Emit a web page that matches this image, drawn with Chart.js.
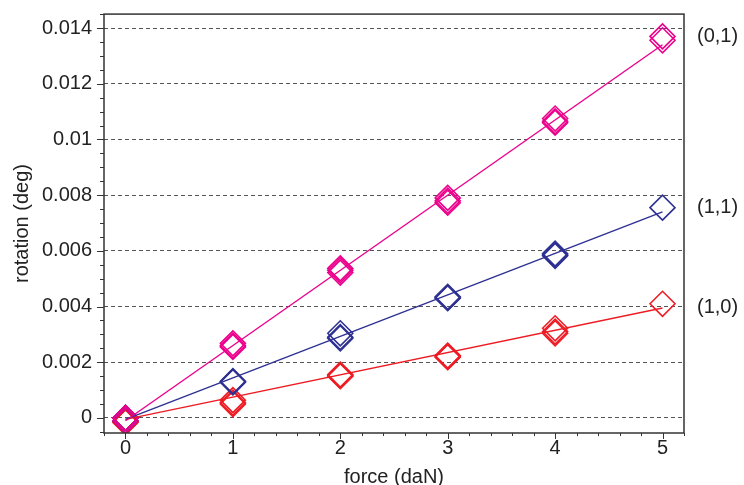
<!DOCTYPE html>
<html>
<head>
<meta charset="utf-8">
<script src="https://cdn.jsdelivr.net/npm/chart.js@4"></script>
<style>
  html, body { margin: 0; padding: 0; background: #fff; }
  #wrap { width: 744px; height: 485px; }
</style>
</head>
<body>
<div id="wrap"><canvas id="rotChart"></canvas></div>
<script>
// force steps (daN)
const forces = [0, 1, 2, 3, 4, 5];

// measured rotation (deg), three runs per configuration
const rot01A = [0, 0.00268, 0.00537, 0.0079, 0.01075, 0.0137];
const rot01B = [-0.0001, 0.00255, 0.00522, 0.00773, 0.0106, 0.01356];
const rot01C = [0, 0.0026, 0.0053, 0.0078, 0.01065, null];

const rot11A = [0, 0.0013, 0.00304, 0.00435, 0.0059, 0.00755];
const rot11B = [-0.0001, 0.00128, 0.00286, 0.00432, 0.00585, null];
const rot11C = [0, 0.00132, 0.0029, 0.0043, 0.00582, null];

const rot10A = [-0.00012, 0.00064, 0.00156, 0.00224, 0.00322, 0.0041];
const rot10B = [-0.00016, 0.0005, 0.00152, 0.0022, 0.00304, null];
const rot10C = [-0.00014, 0.00055, 0.0015, 0.00218, 0.0031, null];

// fitted lines, value at force 0 and force 5
const fitForces = [0, 5];
const fit01 = [-0.0001, 0.0134];
const fit11 = [-0.00005, 0.0074];
const fit10 = [-0.00005, 0.00395];

// right hand labels
const configNames = ['(0,1)', '(1,1)', '(1,0)'];
const configLabelAt = [0.0137, 0.00755, 0.00397];

const yTicks = [0, 0.002, 0.004, 0.006, 0.008, 0.01, 0.012, 0.014];
const xTicks = [0, 1, 2, 3, 4, 5];

const PINK = '#ec008c';
const BLUE = '#2e3192';
const RED = '#ed1c24';
const FONT = "'Liberation Sans', Arial, sans-serif";

function pts(xs, ys) {
  return xs.map((x, i) => ({ x, y: ys[i] })).filter(p => p.y !== null);
}

function fitSet(ys, color) {
  return {
    data: pts(fitForces, ys),
    showLine: true,
    borderColor: color,
    borderWidth: 1.4,
    pointRadius: 0,
    fill: false
  };
}

function markSet(ys, color) {
  return {
    data: pts(forces, ys),
    showLine: false,
    pointStyle: 'rectRot',
    pointRadius: 12.5,
    pointBorderWidth: 1.6,
    pointBorderColor: color,
    pointBackgroundColor: 'rgba(0,0,0,0)'
  };
}

// frame, minor ticks and right-side labels
const decorPlugin = {
  id: 'decor',
  afterDraw(chart) {
    const ctx = chart.ctx;
    const a = chart.chartArea;
    const xs = chart.scales.x;
    const ys = chart.scales.y;
    ctx.save();
    ctx.strokeStyle = '#333';
    ctx.lineWidth = 1.5;
    ctx.strokeRect(a.left, a.top, a.right - a.left, a.bottom - a.top);

    ctx.lineWidth = 1;
    ctx.beginPath();
    for (let k = Math.ceil(ys.min / 0.0005); k <= Math.floor(ys.max / 0.0005); k++) {
      const py = Math.round(ys.getPixelForValue(k * 0.0005)) + 0.5;
      const len = k % 4 === 0 ? 7 : 4;
      ctx.moveTo(a.left - len, py);
      ctx.lineTo(a.left, py);
    }
    for (let k = Math.ceil(xs.min / 0.2 - 1e-9); k <= Math.floor(xs.max / 0.2 + 1e-9); k++) {
      const px = Math.round(xs.getPixelForValue(k * 0.2)) + 0.5;
      const len = k % 5 === 0 ? 6 : 3;
      ctx.moveTo(px, a.bottom);
      ctx.lineTo(px, a.bottom + len);
    }
    ctx.stroke();

    ctx.fillStyle = '#222';
    ctx.font = '20px ' + FONT;
    ctx.textAlign = 'left';
    ctx.textBaseline = 'middle';
    configNames.forEach((name, i) => {
      ctx.fillText(name, a.right + 13, ys.getPixelForValue(configLabelAt[i]));
    });
    ctx.restore();
  }
};

const ctx = document.getElementById('rotChart').getContext('2d');
new Chart(ctx, {
  type: 'scatter',
  data: {
    datasets: [
      fitSet(fit01, PINK), fitSet(fit11, BLUE), fitSet(fit10, RED),
      markSet(rot01A, PINK), markSet(rot01B, PINK), markSet(rot01C, PINK),
      markSet(rot11A, BLUE), markSet(rot11B, BLUE), markSet(rot11C, BLUE),
      markSet(rot10A, RED), markSet(rot10B, RED), markSet(rot10C, RED)
    ]
  },
  options: {
    responsive: true,
    maintainAspectRatio: false,
    animation: false,
    layout: { padding: { top: 13, right: 60, left: 0, bottom: 0 } },
    plugins: {
      legend: { display: false },
      tooltip: { enabled: false }
    },
    scales: {
      x: {
        type: 'linear',
        min: -0.2,
        max: 5.2,
        afterBuildTicks: s => { s.ticks = xTicks.map(v => ({ value: v })); },
        afterFit: s => { s.height = 52; s.paddingLeft = 0; s.paddingRight = 0; },
        grid: { display: false, drawTicks: false },
        border: { display: false },
        ticks: {
          padding: 3,
          color: '#222',
          font: { family: FONT, size: 20 },
          maxRotation: 0
        },
        title: {
          display: true,
          text: 'force (daN)',
          color: '#222',
          font: { family: FONT, size: 20 },
          padding: { top: 0, bottom: -4 }
        }
      },
      y: {
        min: -0.00054,
        max: 0.0145,
        afterBuildTicks: s => { s.ticks = yTicks.map(v => ({ value: v })); },
        afterFit: s => { s.width = 104; s.paddingTop = 0; s.paddingBottom = 0; },
        grid: { color: '#555', lineWidth: 1, drawTicks: false },
        border: { display: false, dash: [4, 3] },
        ticks: {
          padding: 12,
          color: '#222',
          font: { family: FONT, size: 20 },
          callback: v => String(+v.toFixed(4))
        },
        title: {
          display: true,
          text: 'rotation (deg)',
          color: '#222',
          font: { family: FONT, size: 20 },
          padding: { top: 10, bottom: 0 }
        }
      }
    }
  },
  plugins: [decorPlugin]
});
</script>
</body>
</html>
